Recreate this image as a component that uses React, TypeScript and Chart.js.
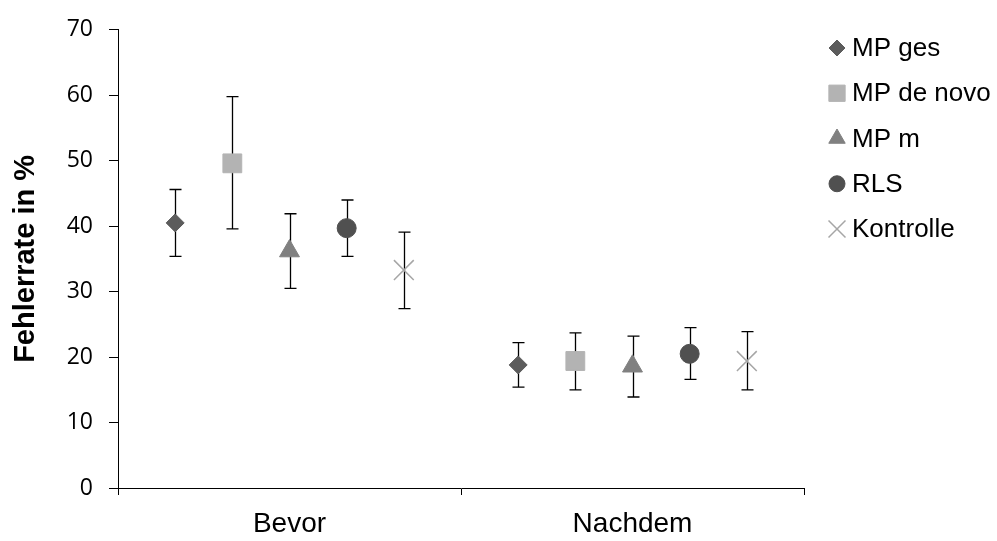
import React, { useEffect, useRef } from "react";
import { Chart, registerables } from "chart.js";
import { drawPoint } from "chart.js/helpers";

Chart.register(...registerables);

// ---- data ----
const categories = ["Bevor", "Nachdem"];
const seriesNames = ["MP ges", "MP de novo", "MP m", "RLS", "Kontrolle"];

const mpGes = [40.5, 18.8];
const mpGesLow = [35.4, 15.4];
const mpGesHigh = [45.6, 22.2];

const mpDeNovo = [49.6, 19.4];
const mpDeNovoLow = [39.6, 15.0];
const mpDeNovoHigh = [59.8, 23.7];

const mpM = [36.2, 18.6];
const mpMLow = [30.5, 13.9];
const mpMHigh = [41.9, 23.2];

const rls = [39.7, 20.5];
const rlsLow = [35.4, 16.6];
const rlsHigh = [44.0, 24.5];

const kontrolle = [33.3, 19.4];
const kontrolleLow = [27.4, 15.0];
const kontrolleHigh = [39.1, 23.9];

const yMin = 0;
const yMax = 70;
const yStep = 10;

// ---- styles ----
const seriesValues = [mpGes, mpDeNovo, mpM, rls, kontrolle];
const seriesLow = [mpGesLow, mpDeNovoLow, mpMLow, rlsLow, kontrolleLow];
const seriesHigh = [mpGesHigh, mpDeNovoHigh, mpMHigh, rlsHigh, kontrolleHigh];
const styles = [
  { pointStyle: "rectRot", color: "#5c5c5c", radius: 9, legendRadius: 8, borderWidth: 1 },
  { pointStyle: "rect", color: "#b3b3b3", radius: 13.3, legendRadius: 11.5, borderWidth: 1 },
  { pointStyle: "triangle", color: "#808080", radius: 11.5, legendRadius: 9.5, borderWidth: 1 },
  { pointStyle: "circle", color: "#505050", radius: 9.5, legendRadius: 8, borderWidth: 1 },
  { pointStyle: "crossRot", color: "#a6a6a6", radius: 14, legendRadius: 12, borderWidth: 1.5 },
];

const errorBarPlugin = {
  id: "errorBars",
  beforeDatasetsDraw(chart: any) {
    const { ctx } = chart;
    const yScale = chart.scales.y;
    ctx.save();
    ctx.strokeStyle = "#000";
    ctx.lineWidth = 1.3;
    chart.data.datasets.forEach((ds: any, i: number) => {
      const meta = chart.getDatasetMeta(i);
      meta.data.forEach((pt: any, j: number) => {
        const x = Math.round(pt.x) + 0.5;
        const top = yScale.getPixelForValue(ds.errHigh[j]);
        const bot = yScale.getPixelForValue(ds.errLow[j]);
        ctx.beginPath();
        ctx.moveTo(x, top);
        ctx.lineTo(x, bot);
        ctx.moveTo(x - 6, top);
        ctx.lineTo(x + 6, top);
        ctx.moveTo(x - 6, bot);
        ctx.lineTo(x + 6, bot);
        ctx.stroke();
      });
    });
    ctx.restore();
  },
};

const sideLegendPlugin = {
  id: "sideLegend",
  afterDraw(chart: any) {
    const { ctx, chartArea } = chart;
    const markerX = chartArea.right + 33;
    const textX = chartArea.right + 48;
    ctx.save();
    chart.data.datasets.forEach((ds: any, i: number) => {
      const cy = 48 + i * 45.25;
      ctx.fillStyle = ds.backgroundColor;
      ctx.strokeStyle = ds.borderColor;
      ctx.lineWidth = ds.borderWidth;
      drawPoint(
        ctx,
        { pointStyle: ds.pointStyle, radius: ds.legendRadius, borderWidth: ds.borderWidth, rotation: 0 } as any,
        markerX,
        cy
      );
      ctx.fillStyle = "#000";
      ctx.font = "26px 'Liberation Sans', Arial, sans-serif";
      ctx.textBaseline = "middle";
      ctx.textAlign = "left";
      ctx.fillText(ds.label, textX, cy + 1);
    });
    ctx.restore();
  },
};

export default function App() {
  const canvasRef = useRef<HTMLCanvasElement | null>(null);

  useEffect(() => {
    if (!canvasRef.current) return;
    const n = seriesNames.length;
    const datasets = seriesNames.map((name, s) => ({
      label: name,
      xAxisID: "x2",
      yAxisID: "y",
      data: seriesValues[s].map((v, c) => ({ x: c + (s - (n - 1) / 2) / 6, y: v })),
      errLow: seriesLow[s],
      errHigh: seriesHigh[s],
      pointStyle: styles[s].pointStyle,
      backgroundColor: styles[s].color,
      borderColor: styles[s].color,
      borderWidth: styles[s].borderWidth,
      pointRadius: styles[s].radius,
      pointHoverRadius: styles[s].radius,
      legendRadius: styles[s].legendRadius,
      showLine: false,
    }));

    const chart = new Chart(canvasRef.current, {
      type: "scatter",
      data: { datasets: datasets as any },
      plugins: [errorBarPlugin, sideLegendPlugin],
      options: {
        responsive: false,
        animation: false,
        events: [],
        layout: { padding: { left: 0, top: 24, right: 193, bottom: 0 } },
        plugins: {
          legend: { display: false },
          tooltip: { enabled: false },
        },
        scales: {
          x: {
            type: "category",
            labels: categories,
            offset: true,
            position: "bottom",
            border: { display: true, color: "#000", width: 1 },
            grid: {
              offset: true,
              drawOnChartArea: false,
              drawTicks: true,
              tickLength: 7,
              color: "#000",
            },
            ticks: {
              color: "#000",
              padding: 12,
              font: { family: "'Liberation Sans', Arial, sans-serif", size: 28 },
            },
            afterFit(scale: any) {
              scale.height = 53;
            },
          },
          x2: {
            type: "linear",
            display: false,
            min: -0.5,
            max: categories.length - 0.5,
          },
          y: {
            type: "linear",
            min: yMin,
            max: yMax,
            position: "left",
            border: { display: true, color: "#000", width: 1 },
            grid: {
              drawOnChartArea: false,
              drawTicks: true,
              tickLength: 9,
              color: "#000",
            },
            ticks: {
              stepSize: yStep,
              color: "#000",
              padding: 16,
              font: { family: "'Open Sans', sans-serif", size: 23 },
            },
            title: {
              display: true,
              text: "Fehlerrate in %",
              color: "#000",
              padding: { top: 8.6, bottom: 0 },
              font: { family: "'Liberation Sans', Arial, sans-serif", size: 29, weight: "bold" },
            },
            afterFit(scale: any) {
              scale.width = 118;
            },
          },
        },
      } as any,
    });
    return () => chart.destroy();
  }, []);

  return (
    <div style={{ position: "absolute", left: 0, top: 0, width: 997, height: 541, background: "#fff" }}>
      <canvas ref={canvasRef} width={997} height={541} style={{ display: "block" }} />
    </div>
  );
}
